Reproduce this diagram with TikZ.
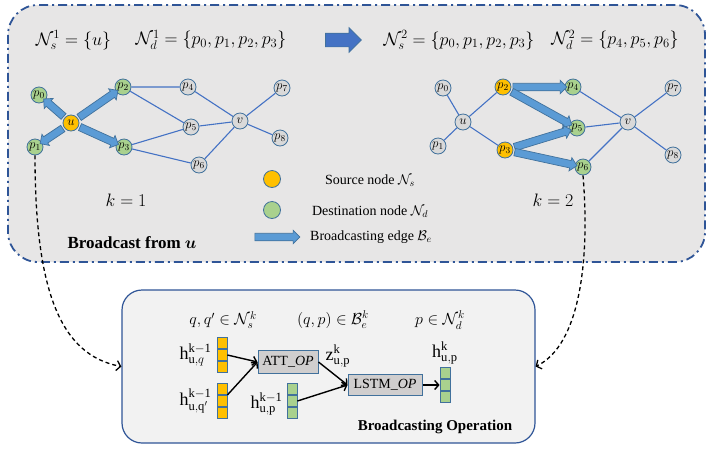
\documentclass[tikz,border=0pt]{standalone}
\usepackage{fix-cm}
\usepackage{amsmath}
\usepackage{fontspec}
\setmainfont{Liberation Serif}
\usetikzlibrary{shapes, arrows.meta, positioning, calc}
\definecolor{PanelGray}{RGB}{231,230,230}
\definecolor{PanelBlue}{RGB}{47,85,151}
\definecolor{OpGray}{RGB}{242,242,242}
\definecolor{BoxGray}{RGB}{208,206,206}
\definecolor{LinkBlue}{RGB}{68,114,196}
\definecolor{RimBlue}{RGB}{65,113,156}
\definecolor{ArrowFill}{RGB}{91,155,213}
\definecolor{SrcOrange}{RGB}{255,192,0}
\definecolor{DstGreen}{RGB}{169,209,142}
\definecolor{IdleGray}{RGB}{217,217,217}
% block arrow between two named nodes
\newcommand\bcastedge[2]{%
  \path let \p1=($(#2)-(#1)$), \n1={veclen(\x1,\y1)}, \n2={atan2(\y1,\x1)} in
    node [bcast, rotate=\n2, minimum height=\n1-16pt] at ($(#1)!0.5!(#2)$) {};}

\begin{document}
\begin{tikzpicture}[x=1pt, y=-1pt,
          panel/.style={rectangle, draw=PanelBlue, fill=PanelGray, line width=1.8pt, rounded corners=30pt, dash pattern=on 9pt off 4pt on 2pt off 4pt, minimum width=697pt, minimum height=257pt},
          opbox/.style={rectangle, draw=PanelBlue, fill=OpGray, line width=1.2pt, rounded corners=20pt, minimum width=413pt, minimum height=153pt},
          gnode/.style={circle, draw=RimBlue, fill=IdleGray, line width=0.8pt, minimum size=16pt, inner sep=0pt, font=\fontsize{13}{13}\selectfont},
          src/.style={gnode, fill=SrcOrange},
          dst/.style={gnode, fill=DstGreen},
          link/.style={LinkBlue, line width=1.1pt},
          bcast/.style={single arrow, draw=RimBlue, fill=ArrowFill, line width=0.7pt, inner xsep=0pt, inner ysep=3.4pt, single arrow head extend=3pt},
          bigarrow/.style={single arrow, draw=RimBlue, fill=LinkBlue, line width=0.7pt, inner xsep=0pt, inner ysep=6.5pt, single arrow head extend=5.5pt, minimum height=36pt},
          setlabel/.style={font=\fontsize{18}{21}\selectfont},
          legend/.style={font=\fontsize{14}{16}\selectfont},
          oplabel/.style={font=\fontsize{16}{18}\selectfont},
          ycell/.style={rectangle, draw=RimBlue, fill=SrcOrange, line width=0.8pt, minimum width=10pt, minimum height=11.3pt, inner sep=0pt},
          gcell/.style={ycell, fill=DstGreen},
          opnode/.style={rectangle, draw=RimBlue, fill=BoxGray, line width=1pt, inner sep=0pt, font=\fontsize{14}{16}\selectfont},
          hlabel/.style={font=\fontsize{18}{20}\selectfont, inner sep=1pt},
          flow/.style={black, line width=1.4pt, -{Straight Barb[length=4pt, width=9pt]}},
          dashflow/.style={black, line width=1.3pt, dash pattern=on 4pt off 3pt, -{Straight Barb[length=4pt, width=10pt]}}
        ]
          \useasboundingbox (0,0) rectangle (714,456);
          \node (panel) [panel] at (356.5,133.5) {};
          \node (ops) [opbox] at (328.5,366.5) {};

          \node (s1) [setlabel] at (73.5,40) {$\mathcal{N}_s^1=\{u\}$};
          \node (d1) [setlabel] at (211,40) {$\mathcal{N}_d^1=\{p_0,p_1,p_2,p_3\}$};
          \node (step) [bigarrow] at (340,40) {};
          \node (s2) [setlabel] at (459,40) {$\mathcal{N}_s^2=\{p_0,p_1,p_2,p_3\}$};
          \node (d2) [setlabel] at (615,40) {$\mathcal{N}_d^2=\{p_4,p_5,p_6\}$};

          % k = 1
          \node (g1u) [src] at (71,123) {$u$};
          \node (g1p0) [dst] at (39,95) {$p_0$};
          \node (g1p1) [dst] at (35,147) {$p_1$};
          \node (g1p2) [dst] at (123,87) {$p_2$};
          \node (g1p3) [dst] at (124,147) {$p_3$};
          \node (g1p4) [gnode] at (188,87) {$p_4$};
          \node (g1p5) [gnode] at (191,127) {$p_5$};
          \node (g1p6) [gnode] at (199,165) {$p_6$};
          \node (g1v) [gnode] at (240,121) {$v$};
          \node (g1p7) [gnode] at (282,88) {$p_7$};
          \node (g1p8) [gnode] at (280,138) {$p_8$};
          \draw [link] (g1p2) -- (g1p4) (g1p2) -- (g1p5) (g1p3) -- (g1p5) (g1p3) -- (g1p6)
            (g1p4) -- (g1v) (g1p5) -- (g1v) (g1p6) -- (g1v) (g1v) -- (g1p7) (g1v) -- (g1p8);
          \bcastedge{g1u}{g1p0}
          \bcastedge{g1u}{g1p1}
          \bcastedge{g1u}{g1p2}
          \bcastedge{g1u}{g1p3}
          \node (k1) [setlabel] at (126,200) {$k=1$};
          \node (from) [font=\fontsize{17}{20}\selectfont\bfseries] at (132,243) {Broadcast from $\boldsymbol{u}$};

          % k = 2
          \node (g2u) [gnode] at (463,122) {$u$};
          \node (g2p0) [gnode] at (443,88) {$p_0$};
          \node (g2p1) [gnode] at (438,146) {$p_1$};
          \node (g2p2) [src] at (503,87) {$p_2$};
          \node (g2p3) [src] at (505,150) {$p_3$};
          \node (g2p4) [dst] at (573,87) {$p_4$};
          \node (g2p5) [dst] at (577,128) {$p_5$};
          \node (g2p6) [dst] at (583,167) {$p_6$};
          \node (g2v) [gnode] at (628,122) {$v$};
          \node (g2p7) [gnode] at (673,88) {$p_7$};
          \node (g2p8) [gnode] at (673,155) {$p_8$};
          \draw [link] (g2u) -- (g2p0) (g2u) -- (g2p1) (g2u) -- (g2p2) (g2u) -- (g2p3)
            (g2p4) -- (g2v) (g2p5) -- (g2v) (g2p6) -- (g2v) (g2v) -- (g2p7) (g2v) -- (g2p8);
          \bcastedge{g2p2}{g2p4}
          \bcastedge{g2p2}{g2p5}
          \bcastedge{g2p3}{g2p5}
          \bcastedge{g2p3}{g2p6}
          \node (k2) [setlabel] at (553,200) {$k=2$};

          % legend
          \node (legsrc) [src, minimum size=17pt] at (272,179) {};
          \node (legdst) [dst, minimum size=17pt] at (272,210) {};
          \node (legedge) [bcast, minimum height=45pt] at (275.5,237) {};
          \node [legend] at (370,181) {Source node $\mathcal{N}_s$};
          \node [legend] at (370,212) {Destination node $\mathcal{N}_d$};
          \node [legend] at (371,237) {Broadcasting edge $\mathcal{B}_e$};

          % broadcasting operation
          \node [oplabel] at (223,320) {$q,q'\in\mathcal{N}_s^k$};
          \node [oplabel] at (333,320) {$(q,p)\in\mathcal{B}_e^k$};
          \node [oplabel] at (440,320) {$p\in\mathcal{N}_d^k$};

          \node (hq2) [ycell] at (222,355) {};
          \node (hq1) [ycell, above=0pt of hq2] {};
          \node (hq3) [ycell, below=0pt of hq2] {};
          \node (hr2) [ycell] at (222,401) {};
          \node (hr1) [ycell, above=0pt of hr2] {};
          \node (hr3) [ycell, below=0pt of hr2] {};
          \node (hp2) [gcell] at (292,401) {};
          \node (hp1) [gcell, above=0pt of hp2] {};
          \node (hp3) [gcell, below=0pt of hp2] {};
          \node (out2) [gcell] at (445,385) {};
          \node (out1) [gcell, above=0pt of out2] {};
          \node (out3) [gcell, below=0pt of out2] {};

          \node [hlabel, left=4pt of hq2] {$\mathrm{h}^{\mathrm{k-1}}_{\mathrm{u},q}$};
          \node [hlabel, left=4pt of hr2] {$\mathrm{h}^{\mathrm{k-1}}_{\mathrm{u,q'}}$};
          \node [hlabel, left=3pt of hp2, yshift=-3pt] {$\mathrm{h}^{\mathrm{k-1}}_{\mathrm{u,p}}$};
          \node [hlabel, above=1pt of out1] {$\mathrm{h}^{\mathrm{k}}_{\mathrm{u,p}}$};

          \node (att) [opnode, minimum width=60pt, minimum height=23pt] at (288,362) {ATT\_$\mathit{OP}$};
          \node (lstm) [opnode, minimum width=74pt, minimum height=21pt] at (385,385) {LSTM\_$\mathit{OP}$};
          \node [hlabel] at (338,356) {$\mathrm{z}^{\mathrm{k}}_{\mathrm{u,p}}$};

          \draw [flow] (hq2.east) -- (att.west);
          \draw [flow] (hr2.north east) -- (att.west);
          \draw [flow] (att.east) -- (lstm.west);
          \draw [flow] (hp2.east) -- (lstm.west);
          \draw [flow] (lstm.east) -- (out2.west);
          \node [font=\fontsize{15}{17}\selectfont\bfseries] at (435,427) {Broadcasting Operation};

          \draw [dashflow] (g1p1.south) .. controls (35,290) and (60,355) .. (ops.west);
          \draw [dashflow] (g2p6.south) .. controls (590,260) and (580,345) .. (ops.east);
        \end{tikzpicture}
\end{document}
